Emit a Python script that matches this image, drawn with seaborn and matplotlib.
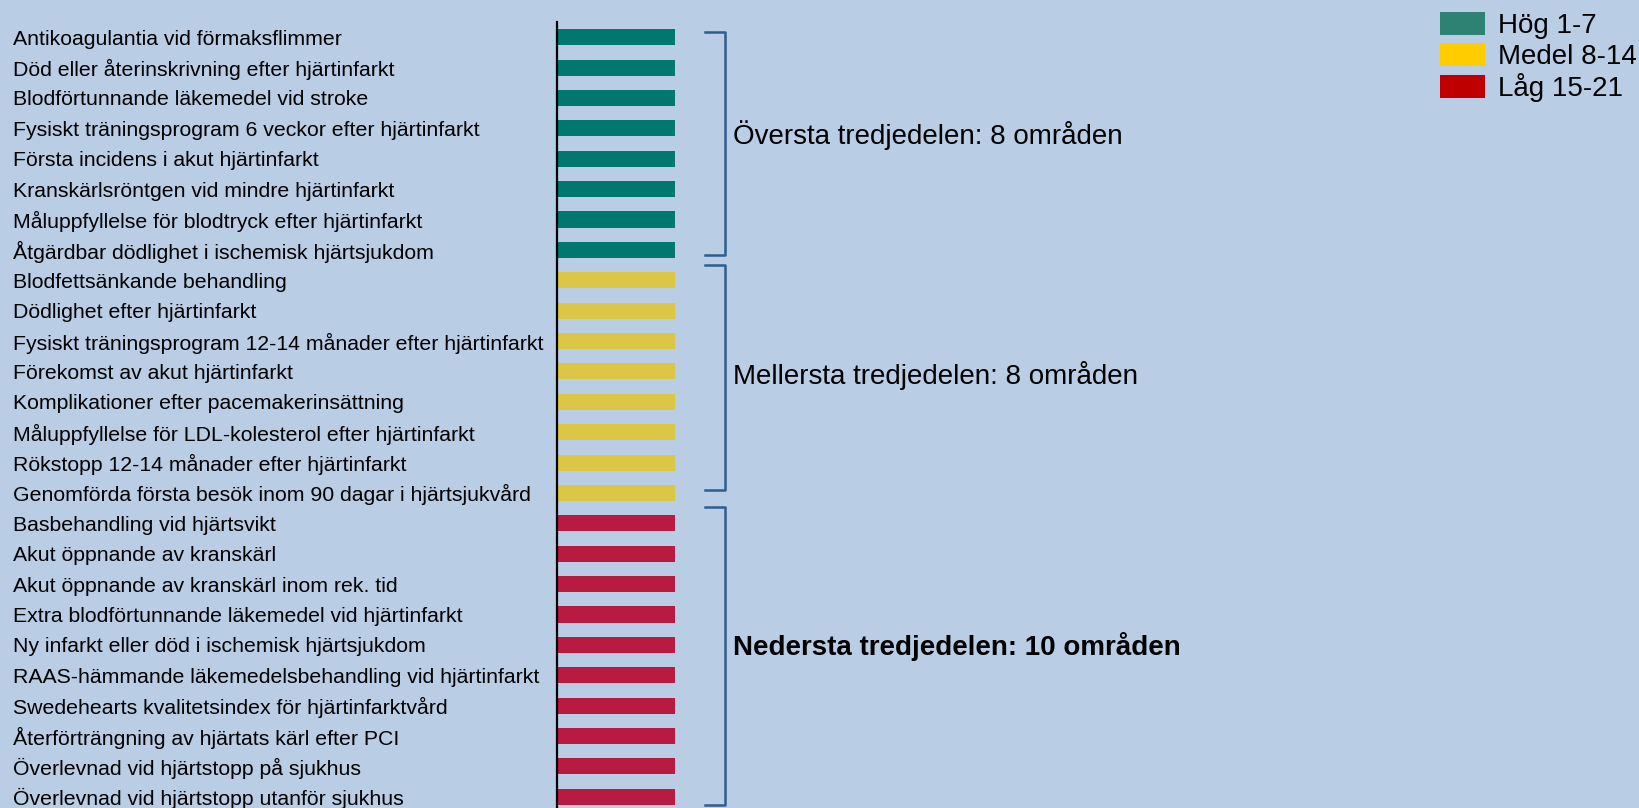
import numpy as np
import pandas as pd
import seaborn as sns
import matplotlib.pyplot as plt
from matplotlib.patches import Patch

# data
indikatorer = [
    "Antikoagulantia vid förmaksflimmer",
    "Död eller återinskrivning efter hjärtinfarkt",
    "Blodförtunnande läkemedel vid stroke",
    "Fysiskt träningsprogram 6 veckor efter hjärtinfarkt",
    "Första incidens i akut hjärtinfarkt",
    "Kranskärlsröntgen vid mindre hjärtinfarkt",
    "Måluppfyllelse för blodtryck efter hjärtinfarkt",
    "Åtgärdbar dödlighet i ischemisk hjärtsjukdom",
    "Blodfettsänkande behandling",
    "Dödlighet efter hjärtinfarkt",
    "Fysiskt träningsprogram 12-14 månader efter hjärtinfarkt",
    "Förekomst av akut hjärtinfarkt",
    "Komplikationer efter pacemakerinsättning",
    "Måluppfyllelse för LDL-kolesterol efter hjärtinfarkt",
    "Rökstopp 12-14 månader efter hjärtinfarkt",
    "Genomförda första besök inom 90 dagar i hjärtsjukvård",
    "Basbehandling vid hjärtsvikt",
    "Akut öppnande av kranskärl",
    "Akut öppnande av kranskärl inom rek. tid",
    "Extra blodförtunnande läkemedel vid hjärtinfarkt",
    "Ny infarkt eller död i ischemisk hjärtsjukdom",
    "RAAS-hämmande läkemedelsbehandling vid hjärtinfarkt",
    "Swedehearts kvalitetsindex för hjärtinfarktvård",
    "Återförträngning av hjärtats kärl efter PCI",
    "Överlevnad vid hjärtstopp på sjukhus",
    "Överlevnad vid hjärtstopp utanför sjukhus",
]
grupp = ["Hög"] * 8 + ["Medel"] * 8 + ["Låg"] * 10
varde = [1, 1, 1, 1, 1, 1, 1, 1,
         1, 1, 1, 1, 1, 1, 1, 1,
         1, 1, 1, 1, 1, 1, 1, 1, 1, 1]

grupp_namn = ["Översta tredjedelen: 8 områden",
              "Mellersta tredjedelen: 8 områden",
              "Nedersta tredjedelen: 10 områden"]
legend_labels = ["Hög 1-7", "Medel 8-14", "Låg 15-21"]

df = pd.DataFrame({"indikator": indikatorer, "grupp": grupp, "varde": varde})

bg = "#B9CDE5"
bar_colors = {"Hög": "#00776F", "Medel": "#DBC645", "Låg": "#B91A41"}
legend_colors = ["#2E8274", "#FFCC00", "#C00000"]

plt.rcParams['font.family'] = ['Liberation Sans', 'DejaVu Sans']

fig = plt.figure(figsize=(16.4, 8.08), dpi=100, facecolor=bg)
ax = fig.add_axes([557 / 1640, -4 / 808, 118 / 1640, 790 / 808])
ax.set_facecolor(bg)

sns.barplot(data=df, x="varde", y="indikator", hue="grupp", palette=bar_colors,
            width=0.53, dodge=False, legend=False, saturation=1, ax=ax)

ax.set_xlim(0, 1)
ax.set_ylim(len(indikatorer) - 0.5, -0.5)
ax.set_xlabel("")
ax.set_ylabel("")
ax.set_xticks([])
for s in ["top", "right", "bottom"]:
    ax.spines[s].set_visible(False)
ax.spines["left"].set_color("black")
ax.spines["left"].set_linewidth(1.6)
ax.tick_params(axis="y", length=0, pad=392, labelsize=15.3)
for lab in ax.get_yticklabels():
    lab.set_ha("left")

# brackets
starts = [0, 8, 16]
ends = [7, 15, 25]
top_off = [0.16, 0.5, 0.55]
bot_off = [0.17, -0.1, 0.26]
txt_off = [0.0, 0.1, 0.18]
for i, (s, e) in enumerate(zip(starts, ends)):
    top = s - top_off[i]
    bot = e + bot_off[i]
    xl, xr = 1.254, 1.424
    ax.plot([xl, xr, xr, xl], [top, top, bot, bot], color="#2E5D8F", lw=1.8,
            solid_joinstyle="round", clip_on=False)
    ax.text(1.49, (s + e) / 2 - txt_off[i], grupp_namn[i], fontsize=20, va="baseline", ha="left",
            fontweight="bold" if i == 2 else "normal", clip_on=False)

handles = [Patch(facecolor=c, edgecolor="none") for c in legend_colors]
fig.legend(handles, legend_labels, loc="upper left", bbox_to_anchor=(1436 / 1640, 1 - 8 / 808),
           frameon=False, fontsize=20, handlelength=1.62, handleheight=0.9,
           handletextpad=0.47, labelspacing=0.12, borderaxespad=0.0, borderpad=0.15)

fig.savefig("out.png", dpi=100, facecolor=bg)
